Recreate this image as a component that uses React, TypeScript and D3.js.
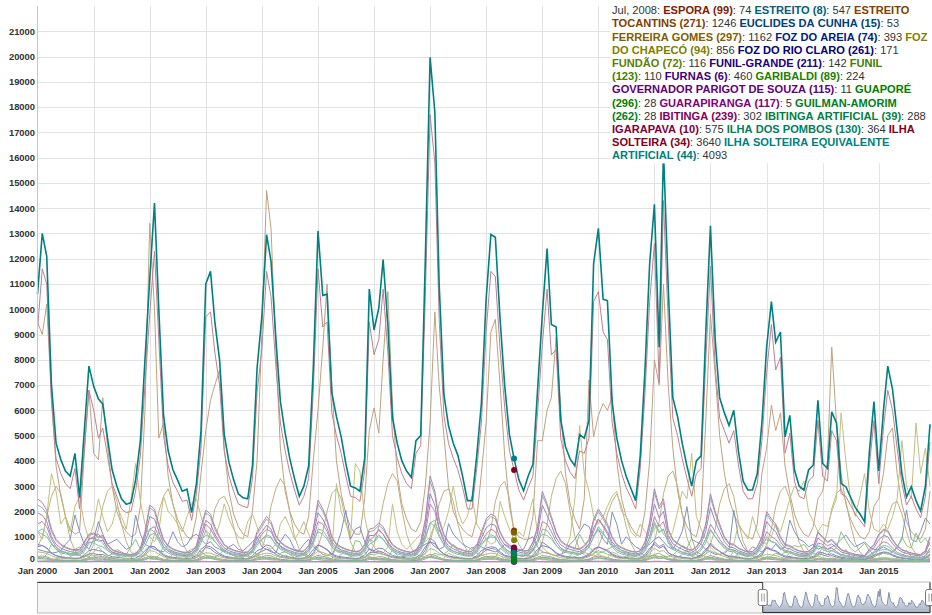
import React, { useEffect, useRef } from 'react';
import * as d3 from 'd3';

// monthly flow, Jan 2000 .. Dec 2015 (one row per year)
const ESPORA = [
  220, 240, 200, 130, 95, 80, 70, 60, 55, 60, 110, 180,
  190, 170, 160, 110, 80, 70, 60, 55, 50, 60, 100, 170,
  230, 220, 170, 110, 85, 70, 62, 55, 52, 60, 100, 190,
  250, 230, 180, 130, 90, 75, 65, 58, 52, 55, 90, 170,
  200, 260, 240, 150, 110, 90, 75, 62, 55, 60, 100, 190,
  260, 220, 190, 120, 90, 78, 68, 60, 55, 60, 110, 200,
  170, 210, 200, 140, 100, 80, 70, 60, 55, 65, 120, 230,
  300, 270, 180, 120, 90, 75, 65, 58, 52, 55, 90, 170,
  210, 230, 220, 150, 100, 85, 74, 64, 58, 62, 110, 190,
  250, 230, 200, 140, 100, 85, 76, 68, 64, 80, 120, 200,
  230, 200, 180, 120, 88, 75, 66, 58, 54, 62, 110, 210,
  270, 210, 240, 140, 100, 85, 72, 62, 56, 72, 110, 190,
  260, 200, 160, 115, 90, 85, 70, 60, 52, 56, 85, 140,
  210, 180, 170, 120, 88, 82, 68, 58, 52, 55, 85, 150,
  140, 110, 120, 95, 70, 60, 52, 45, 40, 38, 70, 100,
  130, 150, 145, 110, 80, 65, 55, 48, 42, 40, 65, 120,
];

const ESTREITO = [
  2250, 2150, 1900, 1200, 850, 660, 560, 490, 450, 470, 750, 1050,
  1100, 950, 1000, 660, 470, 400, 340, 300, 280, 320, 520, 1100,
  2150, 2000, 1400, 850, 610, 490, 430, 380, 360, 400, 610, 1300,
  1950, 1800, 1300, 950, 660, 530, 450, 400, 370, 380, 570, 1100,
  1400, 1700, 1500, 1000, 760, 610, 530, 450, 400, 420, 610, 1200,
  2300, 2000, 1600, 950, 680, 570, 490, 440, 400, 430, 660, 1200,
  1250, 1450, 1300, 950, 660, 530, 450, 400, 370, 430, 750, 1600,
  3200, 2650, 1600, 1050, 760, 610, 520, 450, 400, 410, 610, 1100,
  1600, 1800, 1700, 1150, 810, 640, 547, 470, 420, 440, 760, 1300,
  2650, 2200, 1700, 1150, 800, 660, 590, 520, 490, 610, 850, 1600,
  2000, 1700, 1400, 950, 660, 550, 470, 410, 380, 430, 760, 1500,
  2750, 2100, 2350, 1250, 850, 710, 590, 500, 450, 570, 850, 1400,
  2550, 1900, 1400, 950, 710, 660, 530, 450, 380, 400, 570, 950,
  1900, 1600, 1400, 950, 660, 610, 500, 430, 380, 400, 570, 1150,
  950, 760, 850, 660, 470, 400, 340, 290, 260, 250, 470, 660,
  1050, 1250, 1200, 850, 610, 470, 400, 340, 300, 280, 430, 950,
];

const ESTREITO_TOCANTINS = [
  9500, 9000, 10200, 6500, 3800, 2600, 1800, 1300, 1100, 1200, 4300, 6800,
  4300, 4050, 6500, 4600, 3000, 2000, 1500, 1200, 1000, 1100, 2200, 6000,
  13400, 10000, 4900, 5500, 3400, 2300, 1700, 1300, 1000, 900, 1800, 3500,
  5200, 6400, 7000, 7600, 4500, 2800, 1900, 1400, 1100, 1000, 2000, 4000,
  9000, 14700, 13200, 8500, 4500, 2800, 2000, 1500, 1200, 1100, 1800, 4000,
  6000, 8500, 11000, 7000, 4000, 2700, 1900, 1400, 1100, 1100, 2500, 5200,
  6100, 5100, 8000, 10700, 6200, 3500, 2300, 1700, 1300, 1200, 1600, 3000,
  5500, 9900, 7000, 5000, 3000, 2000, 1600, 1300, 1100, 1000, 1700, 3500,
  5500, 9100, 9600, 7000, 4200, 2200, 1246, 1000, 900, 900, 1800, 4800,
  4800, 6000, 6500, 8900, 6000, 3500, 2300, 1700, 1300, 2500, 7200, 4950,
  5800, 6270, 6000, 6540, 4000, 2500, 1800, 1400, 1100, 1000, 2000, 4000,
  8000, 7000, 11000, 7000, 4500, 2800, 1900, 1400, 1100, 1000, 1800, 5500,
  9800, 7400, 5000, 3500, 2500, 1900, 1500, 1200, 1000, 900, 1500, 3500,
  4500, 6200, 5200, 5900, 3800, 2700, 1900, 1400, 1100, 1000, 1400, 2500,
  2800, 4000, 8500, 5500, 3500, 2300, 1700, 1300, 1000, 900, 1200, 2200,
  2500, 3500, 5000, 5300, 3500, 2300, 1600, 1200, 1000, 900, 1300, 2800,
];

const EUCLIDES_DA_CUNHA = [
  160, 170, 150, 100, 72, 62, 55, 50, 46, 50, 80, 130,
  130, 120, 110, 78, 60, 52, 47, 43, 40, 45, 72, 120,
  170, 160, 120, 85, 65, 55, 49, 44, 42, 48, 75, 140,
  180, 160, 130, 95, 70, 58, 51, 46, 42, 44, 68, 120,
  140, 190, 170, 110, 82, 68, 58, 50, 45, 48, 75, 140,
  190, 160, 140, 90, 70, 60, 53, 48, 44, 48, 80, 150,
  120, 150, 140, 100, 75, 62, 54, 48, 45, 52, 90, 170,
  220, 200, 130, 90, 70, 58, 51, 46, 42, 44, 68, 120,
  150, 170, 160, 110, 76, 63, 53, 48, 44, 48, 80, 140,
  180, 170, 150, 105, 78, 66, 59, 53, 50, 62, 90, 150,
  170, 150, 130, 90, 68, 58, 52, 46, 43, 48, 82, 150,
  200, 155, 175, 105, 78, 66, 57, 50, 46, 56, 85, 140,
  190, 150, 120, 88, 70, 66, 55, 48, 42, 45, 65, 105,
  150, 130, 125, 90, 68, 64, 54, 46, 42, 44, 65, 110,
  100, 80, 88, 70, 54, 47, 41, 36, 32, 30, 54, 75,
  95, 110, 105, 80, 62, 50, 43, 38, 34, 32, 50, 90,
];

const FERREIRA_GOMES = [
  600, 1000, 1800, 2600, 3000, 2700, 1800, 900, 450, 250, 200, 300,
  700, 1300, 2200, 2800, 3000, 2400, 1500, 800, 400, 250, 200, 250,
  500, 1100, 2000, 2600, 2900, 2300, 1500, 800, 400, 220, 180, 250,
  600, 1200, 2100, 2500, 2600, 2200, 1400, 700, 380, 220, 180, 220,
  500, 1100, 2200, 2900, 3300, 3000, 2000, 1000, 500, 280, 220, 300,
  600, 1200, 2000, 2700, 2900, 2500, 1600, 800, 400, 230, 190, 260,
  700, 1400, 2300, 3100, 3500, 3200, 2100, 1100, 550, 300, 240, 330,
  800, 1500, 2300, 2800, 2900, 2400, 1500, 800, 420, 250, 200, 280,
  700, 1300, 2400, 3000, 3200, 2500, 1162, 700, 400, 250, 210, 280,
  800, 1500, 2600, 3300, 3600, 3100, 2000, 1000, 500, 280, 230, 300,
  600, 1100, 1900, 2400, 2700, 2200, 1400, 750, 380, 220, 180, 250,
  800, 1600, 2700, 3400, 3600, 3000, 1900, 950, 480, 270, 220, 300,
  700, 1300, 2300, 2900, 3100, 2600, 1600, 800, 420, 240, 200, 260,
  700, 1300, 2200, 2800, 3000, 2500, 1500, 780, 400, 230, 190, 250,
  600, 1200, 2100, 2700, 2900, 2400, 1500, 750, 380, 220, 180, 240,
  500, 1000, 1800, 2300, 2400, 1900, 1200, 600, 320, 190, 160, 200,
];

const FOZ_DO_AREIA = [
  500, 450, 400, 350, 380, 450, 700, 900, 1860, 1200, 700, 500,
  900, 1600, 1100, 700, 800, 900, 700, 500, 600, 1860, 1100, 700,
  600, 500, 450, 400, 700, 1200, 800, 600, 700, 1000, 1100, 900,
  700, 800, 600, 500, 400, 600, 700, 500, 450, 600, 800, 1000,
  600, 500, 400, 350, 800, 1100, 900, 500, 450, 700, 900, 600,
  450, 300, 250, 300, 600, 1200, 2050, 900, 1300, 1400, 800, 500,
  400, 350, 300, 250, 200, 180, 200, 250, 400, 500, 600, 700,
  800, 600, 500, 600, 1520, 1100, 900, 700, 600, 500, 700, 600,
  500, 450, 400, 500, 700, 600, 393, 450, 500, 900, 1000, 600,
  400, 350, 300, 250, 300, 400, 700, 900, 1200, 1500, 1400, 1000,
  1300, 900, 700, 1980, 1500, 700, 1000, 800, 600, 500, 600, 700,
  900, 1000, 800, 600, 500, 800, 1200, 2190, 900, 800, 700, 500,
  400, 300, 300, 350, 500, 2050, 1000, 600, 400, 600, 500, 400,
  600, 500, 700, 500, 600, 1660, 1200, 900, 800, 600, 700, 500,
  600, 500, 600, 700, 900, 1070, 800, 600, 700, 800, 600, 500,
  500, 600, 500, 400, 600, 900, 2060, 900, 800, 1200, 1740, 1500,
];

const FOZ_DO_CHAPECO = [
  1200, 900, 1800, 3500, 2800, 1500, 1800, 1200, 2200, 2600, 1500, 900,
  1500, 2500, 1800, 1200, 1500, 2200, 1800, 1300, 2500, 3900, 2400, 1500,
  1000, 800, 1200, 2600, 2000, 1800, 1500, 1200, 1800, 2300, 2500, 1800,
  1200, 900, 1000, 1500, 2300, 1700, 1300, 1000, 900, 1600, 1900, 1400,
  800, 600, 500, 700, 1500, 1800, 1400, 900, 1200, 1600, 1100, 700,
  500, 300, 250, 400, 3100, 2000, 1500, 1000, 3900, 3600, 1800, 900,
  600, 400, 350, 600, 2300, 1200, 700, 500, 700, 900, 1100, 800,
  1000, 1500, 1200, 1400, 2000, 3000, 2000, 1500, 1800, 2600, 1500, 1200,
  900, 700, 800, 2400, 1800, 1300, 856, 1200, 1000, 1800, 2500, 1100,
  600, 400, 300, 250, 300, 500, 1000, 2500, 5400, 3500, 2800, 1800,
  1500, 1800, 2200, 2600, 2800, 2000, 1800, 1200, 1000, 1500, 1200, 1000,
  1300, 1500, 1100, 900, 1200, 2000, 2800, 2500, 4300, 1800, 1300, 900,
  600, 400, 300, 400, 500, 700, 1500, 1200, 900, 1800, 1200, 800,
  700, 1000, 1500, 1200, 1800, 2500, 3000, 2800, 3200, 2000, 1600, 1200,
  1500, 1400, 2000, 2500, 5900, 4000, 2500, 1800, 2600, 3500, 2000, 1300,
  1200, 1500, 1300, 1800, 2500, 4800, 3000, 2500, 5500, 3500, 4500, 3000,
];

const FOZ_DO_RIO_CLARO = [
  600, 650, 550, 350, 250, 210, 185, 165, 150, 160, 280, 450,
  500, 450, 420, 280, 210, 180, 160, 145, 135, 155, 260, 450,
  620, 600, 450, 300, 220, 185, 165, 150, 140, 160, 260, 500,
  650, 600, 480, 330, 240, 200, 175, 155, 140, 145, 240, 450,
  520, 680, 620, 400, 290, 230, 195, 165, 150, 160, 260, 500,
  680, 580, 500, 320, 240, 205, 180, 160, 145, 160, 280, 520,
  450, 550, 520, 370, 260, 210, 185, 160, 150, 170, 310, 600,
  800, 720, 480, 320, 240, 200, 175, 155, 140, 145, 240, 450,
  550, 600, 580, 400, 270, 220, 171, 150, 140, 155, 280, 500,
  650, 600, 530, 370, 270, 225, 200, 180, 170, 210, 320, 520,
  600, 520, 470, 320, 235, 200, 175, 155, 145, 165, 290, 550,
  700, 550, 620, 370, 270, 225, 190, 165, 150, 190, 290, 500,
  680, 520, 420, 300, 235, 225, 185, 160, 140, 150, 225, 370,
  550, 480, 450, 320, 235, 215, 180, 155, 140, 145, 225, 400,
  370, 290, 320, 250, 185, 160, 140, 120, 108, 100, 185, 265,
  340, 400, 380, 290, 215, 170, 148, 128, 112, 105, 170, 320,
];

const FUNDAO = [
  80, 70, 60, 90, 120, 180, 150, 200, 350, 250, 150, 100,
  200, 300, 220, 150, 180, 250, 180, 120, 150, 400, 300, 180,
  120, 100, 90, 80, 150, 300, 200, 130, 180, 250, 280, 200,
  150, 180, 130, 100, 90, 150, 180, 120, 100, 150, 200, 250,
  130, 100, 80, 70, 180, 280, 200, 120, 100, 180, 200, 140,
  100, 70, 60, 70, 150, 300, 450, 200, 280, 320, 180, 110,
  90, 80, 70, 60, 50, 45, 50, 60, 90, 120, 150, 160,
  180, 140, 120, 150, 350, 250, 200, 150, 130, 120, 160, 140,
  110, 100, 90, 120, 170, 140, 116, 110, 120, 220, 240, 140,
  90, 80, 70, 60, 70, 90, 160, 220, 300, 380, 320, 240,
  300, 220, 170, 400, 320, 170, 230, 180, 140, 120, 140, 160,
  200, 230, 180, 140, 120, 180, 300, 480, 220, 180, 160, 120,
  100, 70, 70, 80, 120, 450, 230, 140, 100, 140, 120, 100,
  140, 120, 160, 120, 140, 380, 280, 220, 200, 150, 160, 120,
  140, 120, 140, 160, 220, 500, 200, 150, 170, 200, 140, 120,
  120, 140, 120, 100, 140, 210, 460, 220, 200, 300, 420, 360,
];

const FUNIL_GRANDE = [
  700, 650, 560, 350, 250, 190, 160, 140, 130, 140, 230, 320,
  330, 290, 300, 200, 140, 120, 100, 90, 85, 95, 160, 330,
  630, 600, 420, 250, 180, 150, 125, 110, 105, 120, 180, 380,
  580, 520, 380, 280, 200, 160, 135, 120, 110, 115, 170, 330,
  420, 510, 450, 300, 220, 180, 155, 135, 120, 125, 180, 370,
  680, 600, 470, 280, 200, 170, 145, 130, 120, 125, 195, 370,
  370, 440, 380, 280, 195, 160, 135, 120, 110, 125, 220, 470,
  950, 790, 470, 310, 220, 180, 155, 135, 120, 125, 180, 330,
  470, 530, 510, 330, 240, 190, 142, 125, 115, 125, 220, 380,
  790, 650, 510, 330, 240, 195, 175, 155, 145, 180, 250, 470,
  600, 510, 420, 280, 195, 165, 140, 120, 110, 125, 220, 450,
  800, 610, 700, 370, 250, 210, 175, 145, 130, 170, 250, 420,
  750, 560, 420, 280, 210, 195, 160, 135, 115, 120, 170, 280,
  560, 470, 420, 280, 195, 180, 150, 125, 110, 120, 170, 330,
  280, 225, 250, 195, 140, 120, 100, 90, 80, 75, 140, 195,
  310, 370, 350, 250, 180, 140, 120, 100, 90, 85, 125, 280,
];

const FUNIL = [
  400, 380, 340, 250, 180, 150, 130, 120, 110, 120, 190, 280,
  260, 230, 210, 160, 120, 105, 95, 90, 85, 95, 150, 270,
  450, 420, 310, 210, 160, 130, 115, 105, 100, 110, 170, 310,
  360, 350, 280, 210, 160, 130, 115, 105, 100, 100, 150, 260,
  310, 350, 330, 240, 190, 155, 135, 115, 105, 110, 150, 270,
  420, 380, 310, 210, 155, 135, 120, 110, 100, 110, 170, 310,
  280, 350, 310, 230, 170, 140, 120, 105, 100, 115, 190, 350,
  530, 480, 350, 240, 170, 145, 125, 110, 100, 110, 155, 260,
  310, 350, 330, 240, 170, 140, 110, 100, 95, 105, 170, 290,
  380, 360, 310, 230, 170, 150, 135, 120, 115, 145, 210, 350,
  450, 380, 310, 230, 165, 140, 125, 110, 105, 115, 190, 350,
  550, 420, 450, 280, 190, 160, 140, 120, 110, 130, 190, 310,
  450, 350, 280, 210, 165, 160, 135, 115, 105, 110, 155, 240,
  310, 280, 260, 190, 145, 140, 120, 105, 95, 100, 145, 240,
  170, 140, 155, 130, 105, 90, 80, 70, 62, 58, 95, 130,
  155, 170, 165, 130, 105, 85, 75, 65, 58, 55, 85, 155,
];

const FURNAS = [
  1950, 1850, 1600, 1000, 700, 550, 470, 410, 380, 400, 650, 900,
  950, 820, 860, 560, 400, 340, 290, 260, 240, 270, 450, 950,
  1800, 1700, 1200, 720, 520, 420, 360, 320, 300, 340, 520, 1100,
  1650, 1500, 1100, 800, 560, 450, 380, 340, 310, 320, 480, 950,
  1200, 1450, 1300, 850, 640, 520, 450, 380, 340, 350, 520, 1050,
  1950, 1700, 1350, 800, 580, 480, 420, 370, 340, 360, 560, 1050,
  1050, 1250, 1100, 800, 560, 450, 380, 340, 310, 360, 640, 1350,
  2700, 2250, 1350, 900, 640, 520, 440, 380, 340, 350, 520, 950,
  1350, 1500, 1450, 950, 680, 540, 460, 400, 350, 370, 640, 1100,
  2250, 1850, 1450, 950, 680, 560, 500, 440, 410, 520, 720, 1350,
  1700, 1450, 1200, 800, 560, 470, 400, 350, 320, 360, 640, 1300,
  2300, 1750, 2000, 1050, 720, 600, 500, 420, 380, 480, 720, 1200,
  2150, 1600, 1200, 800, 600, 560, 450, 380, 320, 340, 480, 800,
  1600, 1350, 1200, 800, 560, 520, 420, 360, 320, 340, 480, 950,
  800, 640, 720, 560, 400, 340, 290, 250, 220, 210, 400, 560,
  880, 1050, 1000, 720, 520, 400, 340, 290, 260, 240, 360, 800,
];

const GARIBALDI = [
  200, 150, 300, 700, 600, 300, 400, 250, 500, 600, 300, 200,
  400, 600, 400, 250, 300, 500, 400, 300, 600, 900, 500, 300,
  200, 150, 250, 600, 450, 400, 300, 250, 400, 500, 550, 400,
  250, 200, 200, 300, 500, 350, 250, 200, 180, 350, 400, 300,
  180, 120, 100, 150, 350, 400, 300, 180, 250, 350, 250, 150,
  100, 70, 60, 90, 700, 450, 350, 220, 850, 800, 400, 200,
  130, 90, 80, 130, 500, 250, 150, 110, 150, 200, 250, 180,
  220, 350, 280, 320, 450, 700, 450, 320, 400, 600, 350, 280,
  200, 150, 180, 550, 400, 280, 224, 260, 220, 400, 550, 240,
  130, 90, 70, 60, 70, 110, 220, 550, 1100, 750, 600, 400,
  350, 400, 500, 600, 650, 450, 400, 270, 220, 350, 270, 220,
  300, 350, 250, 200, 270, 450, 650, 550, 950, 400, 300, 200,
  130, 90, 70, 90, 110, 160, 350, 270, 200, 400, 270, 180,
  160, 220, 350, 270, 400, 550, 650, 600, 700, 450, 350, 270,
  350, 300, 450, 550, 1200, 850, 550, 400, 550, 750, 450, 300,
  270, 350, 300, 400, 550, 1000, 650, 550, 1150, 750, 950, 650,
];

const GOVERNADOR_PARIGOT_DE_SOUZA = [
  14, 13, 12, 10, 11, 12, 13, 12, 16, 15, 13, 12,
  16, 18, 15, 12, 13, 14, 13, 11, 13, 17, 16, 13,
  12, 11, 11, 10, 12, 15, 13, 11, 12, 14, 14, 13,
  13, 14, 12, 11, 10, 12, 13, 11, 10, 12, 13, 14,
  12, 11, 10, 9, 12, 14, 13, 11, 10, 12, 13, 12,
  11, 9, 8, 8, 11, 14, 16, 12, 13, 14, 12, 11,
  10, 9, 9, 8, 8, 7, 7, 8, 9, 10, 11, 12,
  13, 12, 11, 12, 15, 13, 12, 11, 11, 11, 12, 12,
  11, 11, 10, 11, 13, 12, 11, 11, 11, 13, 14, 12,
  10, 9, 9, 8, 9, 10, 12, 14, 15, 17, 16, 14,
  16, 14, 13, 16, 15, 13, 14, 13, 12, 11, 12, 13,
  14, 15, 13, 12, 12, 13, 15, 18, 14, 13, 13, 12,
  11, 9, 9, 9, 11, 17, 14, 12, 11, 12, 11, 10,
  12, 12, 13, 12, 12, 16, 15, 14, 14, 13, 13, 12,
  12, 12, 13, 14, 15, 19, 14, 12, 13, 14, 12, 11,
  11, 12, 12, 11, 12, 14, 17, 14, 13, 15, 17, 16,
];

const GUAPORE = [
  20, 18, 25, 60, 50, 30, 35, 25, 45, 55, 30, 20,
  35, 55, 35, 25, 30, 45, 35, 28, 55, 80, 45, 28,
  20, 15, 22, 55, 40, 35, 28, 22, 35, 45, 50, 35,
  22, 18, 18, 28, 45, 32, 22, 18, 16, 32, 35, 28,
  16, 12, 10, 14, 32, 35, 28, 16, 22, 32, 22, 14,
  10, 7, 6, 9, 60, 40, 32, 20, 75, 70, 35, 18,
  12, 8, 7, 12, 45, 22, 14, 10, 14, 18, 22, 16,
  20, 32, 25, 28, 40, 60, 40, 28, 35, 55, 32, 25,
  18, 14, 16, 50, 35, 25, 28, 24, 20, 35, 50, 22,
  12, 8, 7, 6, 7, 10, 20, 50, 95, 65, 55, 35,
  32, 35, 45, 55, 58, 40, 35, 24, 20, 32, 24, 20,
  28, 32, 22, 18, 24, 40, 58, 50, 85, 35, 28, 18,
  12, 8, 7, 8, 10, 14, 32, 24, 18, 35, 24, 16,
  14, 20, 32, 24, 35, 50, 58, 55, 62, 40, 32, 24,
  32, 28, 40, 50, 105, 75, 50, 35, 50, 65, 40, 28,
  24, 32, 28, 35, 50, 90, 58, 50, 100, 65, 85, 58,
];

const GUARAPIRANGA = [
  14, 15, 13, 9, 7, 6, 5, 5, 5, 6, 8, 11,
  11, 12, 11, 8, 6, 5, 5, 4, 4, 5, 7, 10,
  13, 14, 11, 8, 6, 5, 5, 4, 4, 5, 7, 11,
  15, 13, 11, 8, 6, 5, 5, 4, 4, 5, 7, 10,
  11, 14, 13, 9, 7, 6, 5, 5, 4, 5, 7, 11,
  15, 14, 12, 8, 6, 6, 5, 5, 4, 5, 7, 11,
  10, 13, 12, 9, 6, 5, 5, 4, 4, 5, 8, 12,
  17, 16, 12, 9, 7, 6, 5, 5, 4, 5, 7, 10,
  11, 13, 12, 9, 7, 6, 5, 5, 4, 5, 7, 10,
  15, 14, 12, 9, 7, 6, 6, 5, 5, 6, 9, 13,
  16, 14, 12, 8, 6, 5, 5, 4, 4, 5, 7, 11,
  17, 14, 15, 10, 7, 6, 5, 5, 4, 5, 7, 10,
  14, 11, 9, 7, 6, 6, 5, 5, 4, 5, 6, 8,
  11, 10, 9, 7, 6, 6, 5, 4, 4, 4, 6, 8,
  6, 4, 5, 4, 3, 3, 3, 3, 2, 2, 3, 4,
  5, 7, 7, 5, 4, 3, 3, 3, 3, 3, 4, 6,
];

const GUILMAN_AMORIM = [
  140, 130, 110, 70, 45, 36, 31, 27, 25, 27, 50, 90,
  90, 80, 80, 50, 36, 31, 27, 24, 22, 26, 45, 90,
  150, 140, 100, 60, 44, 36, 31, 27, 26, 30, 48, 100,
  160, 140, 100, 70, 48, 38, 32, 28, 26, 27, 45, 90,
  110, 150, 130, 85, 60, 47, 39, 32, 28, 30, 48, 95,
  150, 130, 110, 65, 48, 40, 34, 30, 27, 30, 50, 100,
  90, 110, 100, 70, 48, 38, 33, 29, 27, 31, 55, 120,
  200, 170, 110, 70, 50, 40, 34, 30, 27, 28, 45, 85,
  110, 130, 120, 80, 52, 40, 28, 26, 24, 28, 52, 95,
  160, 140, 120, 80, 56, 46, 40, 35, 33, 42, 62, 110,
  140, 120, 100, 65, 47, 39, 34, 30, 28, 32, 55, 110,
  170, 130, 150, 85, 58, 47, 40, 34, 30, 38, 58, 100,
  160, 120, 95, 68, 52, 48, 40, 34, 29, 31, 45, 75,
  120, 100, 95, 68, 49, 46, 38, 32, 29, 30, 45, 80,
  75, 58, 64, 50, 38, 33, 28, 24, 22, 20, 38, 52,
  70, 80, 76, 58, 44, 36, 31, 27, 24, 22, 34, 65,
];

const IBITINGA = [
  1500, 1600, 1400, 900, 600, 450, 380, 330, 300, 320, 500, 900,
  1000, 1100, 900, 550, 380, 320, 280, 250, 240, 280, 450, 800,
  1300, 1400, 1000, 600, 420, 340, 290, 260, 250, 300, 450, 900,
  1500, 1300, 1000, 700, 450, 360, 300, 270, 250, 280, 420, 800,
  1100, 1300, 1200, 800, 600, 480, 380, 300, 260, 300, 450, 850,
  1600, 1500, 1200, 700, 500, 420, 350, 300, 270, 300, 480, 850,
  1000, 1300, 1100, 750, 500, 380, 320, 280, 260, 300, 550, 1100,
  2300, 2000, 1300, 800, 550, 430, 360, 300, 260, 280, 430, 800,
  1100, 1300, 1200, 800, 550, 400, 302, 260, 240, 280, 480, 850,
  1600, 1500, 1200, 800, 550, 450, 400, 360, 340, 450, 700, 1200,
  1700, 1400, 1100, 700, 480, 380, 320, 280, 260, 300, 500, 1000,
  1800, 1400, 1600, 900, 600, 480, 380, 320, 280, 360, 550, 900,
  1500, 1200, 900, 650, 500, 480, 380, 300, 260, 280, 400, 700,
  1200, 1000, 900, 650, 450, 420, 340, 280, 250, 270, 400, 750,
  700, 500, 550, 420, 300, 250, 200, 170, 150, 140, 260, 400,
  650, 800, 750, 550, 380, 300, 250, 210, 180, 170, 260, 550,
];

const IBITINGA_ARTIFICIAL = [
  1200, 1300, 1150, 750, 500, 380, 320, 280, 260, 270, 420, 750,
  820, 900, 750, 460, 320, 270, 240, 215, 205, 240, 380, 650,
  1050, 1150, 820, 500, 350, 290, 250, 225, 215, 260, 380, 750,
  1250, 1080, 820, 580, 380, 310, 260, 230, 215, 240, 350, 650,
  900, 1080, 1000, 650, 500, 400, 320, 260, 225, 260, 380, 700,
  1300, 1250, 1000, 580, 420, 350, 300, 260, 230, 260, 400, 700,
  820, 1080, 900, 620, 420, 320, 270, 240, 225, 260, 460, 900,
  1550, 1650, 1080, 660, 460, 360, 300, 260, 225, 240, 360, 660,
  900, 1080, 1000, 660, 460, 340, 288, 250, 230, 260, 420, 720,
  1300, 1250, 1000, 660, 460, 380, 340, 310, 290, 380, 580, 1000,
  1400, 1150, 900, 580, 400, 320, 270, 240, 225, 260, 420, 820,
  1500, 1150, 1300, 750, 500, 400, 320, 270, 240, 300, 460, 750,
  1250, 1000, 750, 540, 420, 400, 320, 260, 225, 240, 340, 580,
  1000, 820, 750, 540, 380, 350, 290, 240, 215, 230, 340, 620,
  580, 420, 460, 350, 250, 210, 170, 145, 130, 120, 220, 340,
  540, 660, 620, 460, 320, 250, 210, 180, 155, 145, 220, 460,
];

const IGARAPAVA = [
  2500, 2350, 2050, 1300, 900, 700, 600, 520, 480, 500, 800, 1100,
  1150, 1000, 1050, 700, 500, 420, 360, 320, 300, 340, 550, 1200,
  2250, 2100, 1500, 900, 650, 520, 450, 400, 380, 420, 650, 1400,
  2050, 1900, 1400, 1000, 700, 560, 480, 420, 390, 400, 600, 1200,
  1500, 1800, 1600, 1050, 800, 650, 560, 470, 420, 440, 650, 1300,
  2450, 2100, 1700, 1000, 720, 600, 520, 460, 420, 450, 700, 1300,
  1350, 1550, 1400, 1000, 700, 560, 480, 420, 390, 450, 800, 1700,
  3400, 2800, 1700, 1100, 800, 650, 550, 480, 420, 430, 650, 1200,
  1700, 1900, 1800, 1200, 850, 680, 575, 500, 440, 460, 800, 1400,
  2800, 2300, 1800, 1200, 850, 700, 620, 550, 520, 650, 900, 1700,
  2100, 1800, 1500, 1000, 700, 580, 500, 430, 400, 450, 800, 1600,
  2900, 2200, 2500, 1300, 900, 750, 620, 530, 470, 600, 900, 1500,
  2700, 2000, 1500, 1000, 750, 700, 560, 470, 400, 420, 600, 1000,
  2000, 1700, 1500, 1000, 700, 650, 530, 450, 400, 420, 600, 1200,
  1000, 800, 900, 700, 500, 420, 360, 310, 280, 260, 500, 700,
  1100, 1300, 1250, 900, 650, 500, 420, 360, 320, 300, 450, 1000,
];

const ILHA_DOS_POMBOS = [
  1200, 1100, 1000, 700, 500, 420, 380, 340, 320, 350, 550, 800,
  750, 650, 600, 450, 350, 300, 280, 260, 250, 280, 450, 800,
  1300, 1200, 900, 600, 450, 380, 340, 310, 300, 330, 500, 900,
  1050, 1000, 800, 600, 450, 380, 340, 300, 290, 300, 450, 750,
  900, 1000, 950, 700, 550, 450, 400, 340, 310, 320, 450, 800,
  1200, 1100, 900, 600, 450, 400, 360, 320, 300, 320, 500, 900,
  800, 1000, 900, 650, 480, 400, 350, 310, 290, 330, 550, 1000,
  1550, 1400, 1000, 700, 500, 420, 370, 330, 300, 320, 450, 750,
  900, 1000, 950, 700, 500, 420, 364, 320, 300, 320, 500, 850,
  1100, 1050, 900, 650, 500, 430, 390, 350, 340, 420, 600, 1000,
  1300, 1100, 900, 650, 480, 400, 360, 320, 300, 340, 550, 1000,
  1600, 1200, 1300, 800, 550, 460, 400, 350, 320, 380, 550, 900,
  1300, 1000, 800, 600, 480, 460, 390, 340, 300, 320, 450, 700,
  900, 800, 750, 550, 420, 400, 350, 300, 280, 300, 420, 700,
  500, 400, 450, 380, 300, 260, 230, 200, 180, 170, 280, 380,
  450, 500, 480, 380, 300, 250, 220, 190, 170, 160, 250, 450,
];

const ILHA_SOLTEIRA = [
  9200, 11600, 11000, 6300, 4100, 3500, 3100, 2900, 3700, 2100, 4500, 6800,
  6000, 4900, 5300, 4200, 3100, 2600, 2100, 1950, 2000, 2800, 4200, 7000,
  9800, 12300, 8800, 5000, 3800, 3150, 2800, 2400, 2450, 1650, 2700, 4500,
  9700, 9900, 8300, 7000, 4400, 3400, 2800, 2300, 2200, 2150, 3300, 6700,
  8400, 11500, 10500, 7800, 5500, 4400, 3550, 2850, 2250, 2600, 3300, 6700,
  11600, 9300, 9500, 5900, 5000, 4300, 3400, 2600, 2550, 2400, 3600, 9500,
  8200, 8800, 10800, 8300, 5000, 4100, 3500, 3100, 2900, 4300, 4600, 10500,
  17700, 15800, 9600, 5800, 4700, 4100, 3650, 2950, 2100, 2100, 3700, 5500,
  9100, 11500, 11300, 8400, 6100, 4400, 3640, 2850, 2450, 2950, 3400, 5900,
  8600, 10800, 8200, 8400, 4900, 4000, 3550, 3300, 4400, 4300, 4900, 10300,
  10700, 9100, 8800, 5500, 4300, 3500, 2950, 2550, 2100, 3700, 6700, 10300,
  12600, 7100, 14300, 9500, 5700, 5000, 4100, 3300, 2600, 3500, 3700, 7900,
  11700, 7700, 5700, 5200, 4700, 5200, 3850, 2800, 2500, 2500, 3100, 4800,
  7500, 9400, 7600, 8100, 4300, 5100, 3200, 2600, 2500, 3200, 3400, 5600,
  3400, 3200, 5200, 4800, 2700, 2600, 2250, 1900, 1650, 1400, 3800, 5600,
  3100, 5300, 6800, 6000, 4500, 3100, 2250, 2600, 2100, 1750, 2600, 4750,
];

const ILHA_SOLTEIRA_EQUIVALENTE = [
  10600, 13000, 12100, 7000, 4700, 4050, 3600, 3400, 4300, 2550, 5200, 7750,
  6950, 6450, 6250, 4900, 3650, 3000, 2500, 2280, 2350, 3250, 4800, 8000,
  11200, 14200, 10000, 5800, 4400, 3650, 3250, 2800, 2880, 1950, 3100, 5200,
  11000, 11500, 9500, 8000, 5050, 3940, 3260, 2700, 2540, 2500, 3800, 7650,
  9700, 12950, 11900, 8900, 6350, 5100, 4100, 3300, 2600, 3000, 3800, 7650,
  13100, 10550, 10600, 6700, 5750, 4950, 3900, 3000, 2930, 2800, 4100, 10800,
  9180, 10050, 11970, 9400, 5700, 4700, 4000, 3600, 3350, 4800, 5000, 12000,
  19970, 17800, 11000, 6630, 5390, 4700, 4220, 3390, 2430, 2430, 4220, 6280,
  10400, 12960, 12850, 9600, 6970, 5040, 4093, 3260, 2820, 3400, 3870, 6800,
  9800, 12400, 9400, 9300, 5600, 4560, 4080, 3800, 5040, 4900, 5600, 11800,
  13200, 10400, 10340, 6300, 4900, 4010, 3390, 2910, 2430, 4220, 7650, 11800,
  14150, 8500, 16300, 10900, 6500, 5750, 4700, 3800, 3000, 4000, 4200, 9000,
  13300, 8800, 6500, 5900, 5400, 6000, 4400, 3200, 2850, 2850, 3500, 5500,
  8500, 10300, 8700, 9100, 4950, 5800, 3650, 3000, 2850, 3640, 3840, 6400,
  3900, 3700, 5940, 5500, 3100, 2980, 2570, 2160, 1900, 1600, 4350, 6350,
  3600, 6000, 7750, 6830, 5200, 3500, 2570, 2980, 2430, 2020, 3000, 5450,
];

const SERIES_NAMES = [
  'ESPORA', 'ESTREITO', 'ESTREITO TOCANTINS', 'EUCLIDES DA CUNHA', 'FERREIRA GOMES',
  'FOZ DO AREIA', 'FOZ DO CHAPECÓ', 'FOZ DO RIO CLARO', 'FUNDÃO', 'FUNIL-GRANDE',
  'FUNIL', 'FURNAS', 'GARIBALDI', 'GOVERNADOR PARIGOT DE SOUZA', 'GUAPORÉ',
  'GUARAPIRANGA', 'GUILMAN-AMORIM', 'IBITINGA', 'IBITINGA ARTIFICIAL', 'IGARAPAVA',
  'ILHA DOS POMBOS', 'ILHA SOLTEIRA', 'ILHA SOLTEIRA EQUIVALENTE ARTIFICIAL',
];
const SERIES_IDS = [99, 8, 271, 15, 297, 74, 94, 261, 72, 211, 123, 6, 89, 115, 296, 117, 262, 239, 39, 10, 130, 34, 44];
const SERIES_VALUES = [
  ESPORA, ESTREITO, ESTREITO_TOCANTINS, EUCLIDES_DA_CUNHA, FERREIRA_GOMES,
  FOZ_DO_AREIA, FOZ_DO_CHAPECO, FOZ_DO_RIO_CLARO, FUNDAO, FUNIL_GRANDE,
  FUNIL, FURNAS, GARIBALDI, GOVERNADOR_PARIGOT_DE_SOUZA, GUAPORE,
  GUARAPIRANGA, GUILMAN_AMORIM, IBITINGA, IBITINGA_ARTIFICIAL, IGARAPAVA,
  ILHA_DOS_POMBOS, ILHA_SOLTEIRA, ILHA_SOLTEIRA_EQUIVALENTE,
];

const START = Date.UTC(2000, 0, 1);
const HIGHLIGHT_SERIES = 22;
const SELECTED_ROW = 102; // Jul 2008
const Y_MAX = 22000;
const RANGE_START = Date.UTC(1931, 0, 1);

const FONT = "'Liberation Sans', Arial, sans-serif";

// dygraphs-style colour wheel
function hsvToRgb(h, s, v) {
  const i = Math.floor(h * 6);
  const f = h * 6 - i;
  const p = v * (1 - s), q = v * (1 - s * f), t = v * (1 - s * (1 - f));
  let r, g, b;
  switch (i) {
    case 1: r = q; g = v; b = p; break;
    case 2: r = p; g = v; b = t; break;
    case 3: r = p; g = q; b = v; break;
    case 4: r = t; g = p; b = v; break;
    case 5: r = v; g = p; b = q; break;
    default: r = v; g = t; b = p; break;
  }
  const c = (n) => Math.floor(255 * n + 0.5);
  return `rgb(${c(r)},${c(g)},${c(b)})`;
}

function seriesColors(num) {
  const half = Math.ceil(num / 2);
  const out = [];
  for (let i = 0; i < num; i++) {
    const idx = i % 2 ? half + (i + 1) / 2 : Math.ceil((i + 1) / 2);
    out.push(hsvToRgb(idx / (1 + num), 1.0, 0.5));
  }
  return out;
}

function drawChart(node) {
  const W = 932, H = 615;
  const left = 37.5, right = 930, top = 6, bottom = 562;
  const svg = d3.select(node);
  svg.selectAll('*').remove();

  const months = SERIES_VALUES[0].map((_, i) => new Date(Date.UTC(2000, i, 1)));
  const colors = seriesColors(SERIES_NAMES.length);

  const x = d3.scaleUtc().domain([months[0], months[months.length - 1]]).range([left, right]);
  const y = d3.scaleLinear().domain([0, Y_MAX]).range([bottom, top]);

  svg.append('rect').attr('width', W).attr('height', H).attr('fill', '#fff');

  // grid
  const grid = svg.append('g').attr('stroke', '#c4c4c4').attr('stroke-width', 1).attr('shape-rendering', 'crispEdges');
  const yTicks = d3.range(1000, Y_MAX, 1000);
  grid.selectAll('.hg').data(yTicks).enter().append('line')
    .attr('x1', left).attr('x2', right)
    .attr('y1', d => Math.round(y(d)) + 0.5).attr('y2', d => Math.round(y(d)) + 0.5);
  const years = d3.utcYear.range(new Date(START), new Date(Date.UTC(2016, 0, 1)));
  grid.selectAll('.vg').data(years.slice(1)).enter().append('line')
    .attr('y1', top).attr('y2', bottom)
    .attr('x1', d => Math.round(x(d)) + 0.5).attr('x2', d => Math.round(x(d)) + 0.5);

  const line = d3.line().x((d, i) => x(months[i])).y(d => y(d));

  const lines = svg.append('g').attr('fill', 'none');
  SERIES_VALUES.forEach((vals, s) => {
    if (s === HIGHLIGHT_SERIES) return;
    lines.append('path').attr('d', line(vals)).attr('stroke', colors[s]).attr('stroke-width', 1);
  });

  // fade everything except the highlighted series
  svg.append('rect').attr('width', W).attr('height', H).attr('fill', '#fff').attr('fill-opacity', 0.5);

  svg.append('path').attr('d', line(SERIES_VALUES[HIGHLIGHT_SERIES]))
    .attr('fill', 'none').attr('stroke', colors[HIGHLIGHT_SERIES]).attr('stroke-width', 1.6);

  // axis line
  svg.append('line').attr('x1', 37.5).attr('x2', 37.5).attr('y1', top).attr('y2', bottom)
    .attr('stroke', '#c8c8c8').attr('stroke-width', 1);

  // highlight dots
  const sx = x(months[SELECTED_ROW]);
  SERIES_VALUES.forEach((vals, s) => {
    svg.append('circle').attr('cx', sx).attr('cy', y(vals[SELECTED_ROW])).attr('r', 3).attr('fill', colors[s]);
  });

  // axis labels
  const axisFont = { size: 9.4, weight: 'bold', color: '#333' };
  svg.append('g').selectAll('text').data([0, ...yTicks]).enter().append('text')
    .attr('x', 35).attr('y', d => (d === 0 ? y(d) - 0.5 : y(d) + 3.4))
    .attr('text-anchor', 'end').attr('font-family', FONT).attr('font-size', axisFont.size)
    .attr('font-weight', axisFont.weight).attr('fill', axisFont.color)
    .text(d => String(d));
  const fmtTick = d3.utcFormat('%b %Y');
  svg.append('g').selectAll('text').data(years).enter().append('text')
    .attr('x', d => x(d)).attr('y', 573.5)
    .attr('text-anchor', 'middle').attr('font-family', FONT).attr('font-size', axisFont.size)
    .attr('font-weight', axisFont.weight).attr('fill', axisFont.color)
    .text(d => fmtTick(d));

  // legend
  const fs = 11.1;
  const ctx = document.createElement('canvas').getContext('2d');
  const measure = (t, bold) => { ctx.font = `${bold ? 'bold ' : ''}${fs}px ${FONT}`; return ctx.measureText(t).width; };
  const tokens = [[{ text: d3.utcFormat('%b, %Y')(months[SELECTED_ROW]) + ':', bold: false, color: '#333' }]];
  SERIES_NAMES.forEach((name, s) => {
    const words = `${name} (${SERIES_IDS[s]})`.split(' ');
    words.forEach((w, j) => {
      const parts = [{ text: w, bold: true, color: colors[s] }];
      if (j === words.length - 1) parts.push({ text: ':\u00a0' + SERIES_VALUES[s][SELECTED_ROW], bold: false, color: '#333' });
      tokens.push(parts);
    });
  });
  const maxW = 319;
  const space = measure(' ', false);
  const rows = [];
  let cur = [], curW = 0;
  tokens.forEach(parts => {
    const w = parts.reduce((a, p) => a + measure(p.text, p.bold), 0);
    const need = cur.length ? curW + space + w : w;
    if (cur.length && need > maxW) { rows.push(cur); cur = [parts]; curW = w; }
    else { cur.push(parts); curW = need; }
  });
  if (cur.length) rows.push(cur);

  const lx = 612, lh = 13.2, lTop = 14.2;
  const leg = svg.append('g');
  leg.append('rect').attr('x', lx - 2).attr('y', 0).attr('width', W - lx + 2)
    .attr('height', lTop + (rows.length - 1) * lh + 4).attr('fill', '#fff');
  rows.forEach((row, r) => {
    let cx = lx;
    row.forEach((parts, k) => {
      if (k > 0) cx += space;
      parts.forEach(p => {
        leg.append('text').attr('x', cx).attr('y', lTop + r * lh)
          .attr('font-family', FONT).attr('font-size', fs)
          .attr('font-weight', p.bold ? 'bold' : 'normal').attr('fill', p.color)
          .text(p.text);
        cx += measure(p.text, p.bold);
      });
    });
  });

  // range selector
  const rTop = 582, rBot = 613;
  const rx = d3.scaleUtc().domain([new Date(RANGE_START), months[months.length - 1]]).range([left, right]);
  const combined = months.map((_, i) => d3.mean(SERIES_VALUES, v => v[i]));
  const cMin = d3.min(combined), cMax = d3.max(combined);
  const extra = (cMax - cMin) * 0.25;
  const ry = d3.scaleLinear().domain([cMin - extra, cMax + extra]).range([rBot - 0.5, rTop + 0.5]);

  const defs = svg.append('defs');
  const grad = defs.append('linearGradient').attr('id', 'rsfill').attr('x1', 0).attr('y1', 0).attr('x2', 0).attr('y2', 1);
  grad.append('stop').attr('offset', 0).attr('stop-color', '#fff');
  grad.append('stop').attr('offset', 1).attr('stop-color', '#A7B1C4');

  svg.append('rect').attr('x', left).attr('y', rTop).attr('width', right - left).attr('height', rBot - rTop)
    .attr('fill', '#fff');
  const area = d3.area().x((d, i) => rx(months[i])).y0(rBot).y1(d => ry(d));
  const rline = d3.line().x((d, i) => rx(months[i])).y(d => ry(d));
  svg.append('path').attr('d', area(combined)).attr('fill', 'url(#rsfill)');
  svg.append('path').attr('d', rline(combined)).attr('fill', 'none').attr('stroke', '#808FAB').attr('stroke-width', 1);

  const hL = rx(months[0]), hR = right;
  svg.append('rect').attr('x', left).attr('y', rTop).attr('width', hL - left).attr('height', rBot - rTop)
    .attr('fill', 'rgb(240,240,240)').attr('fill-opacity', 0.6);
  svg.append('rect').attr('x', left).attr('y', rTop).attr('width', right - left).attr('height', rBot - rTop)
    .attr('fill', 'none').attr('stroke', '#bbb').attr('stroke-width', 1);
  svg.append('path')
    .attr('d', `M${left},${rTop + 0.5}H${hL}V${rBot - 0.5}H${hR}V${rTop + 0.5}`)
    .attr('fill', 'none').attr('stroke', '#333').attr('stroke-width', 1);

  [hL, hR].forEach(hx => {
    const g = svg.append('g').attr('transform', `translate(${hx},${(rTop + rBot) / 2})`);
    g.append('rect').attr('x', -4.5).attr('y', -8).attr('width', 9).attr('height', 16).attr('rx', 2)
      .attr('fill', '#fff').attr('stroke', '#777');
    g.append('line').attr('x1', -1).attr('x2', -1).attr('y1', -4).attr('y2', 4).attr('stroke', '#999');
    g.append('line').attr('x1', 1.5).attr('x2', 1.5).attr('y1', -4).attr('y2', 4).attr('stroke', '#999');
  });
}

export default function App() {
  const ref = useRef(null);
  useEffect(() => { drawChart(ref.current); }, []);
  return (
    <svg ref={ref} width={932} height={615}
      style={{ position: 'absolute', left: 0, top: 0, display: 'block' }} />
  );
}
